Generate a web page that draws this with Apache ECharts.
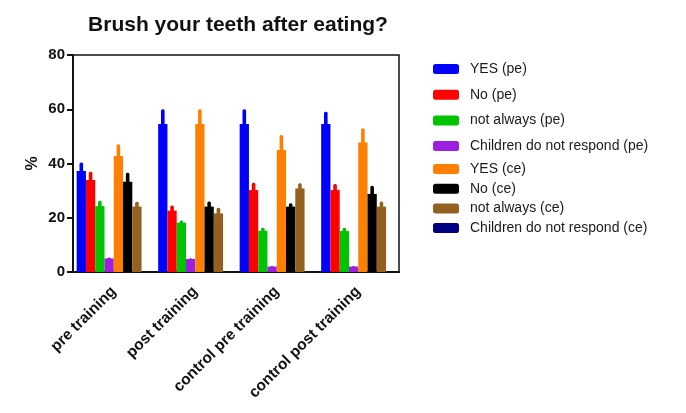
<!DOCTYPE html>
<html>
<head>
<meta charset="utf-8">
<script src="https://cdn.jsdelivr.net/npm/echarts@6/dist/echarts.min.js"></script>
<style>
  html, body { margin: 0; padding: 0; background: #fff; }
  #main { width: 686px; height: 413px; }
</style>
</head>
<body>
<div id="main"></div>
<script>
var categories = ['pre training', 'post training', 'control pre training', 'control post training'];
var seriesNames = ['YES (pe)', 'No (pe)', 'not always (pe)', 'Children do not respond (pe)',
  'YES (ce)', 'No (ce)', 'not always (ce)', 'Children do not respond (ce)'];
var colors = ['#0000ff', '#ff0000', '#00c400', '#9d1fe0', '#ff8000', '#000000', '#93601f', '#000080'];

// means (%)
var yesPe = [37.2, 54.6, 54.6, 54.6];
var noPe = [33.9, 22.6, 30.2, 30.2];
var notAlwaysPe = [24.3, 18.2, 15.2, 15.1];
var noRespPe = [5.0, 4.8, 2.0, 2.0];
var yesCe = [42.8, 54.6, 45.0, 47.7];
var noCe = [33.3, 24.1, 24.1, 28.8];
var notAlwaysCe = [24.1, 21.6, 30.8, 24.1];
var noRespCe = [0, 0, 0, 0];

// error (upper whisker length)
var yesPeErr = [3.2, 5.4, 5.4, 4.5];
var noPeErr = [3.1, 1.9, 2.7, 2.2];
var notAlwaysPeErr = [2.0, 0.8, 1.1, 1.2];
var noRespPeErr = [0.3, 0.3, 0.2, 0.2];
var yesCeErr = [4.3, 5.4, 5.5, 5.3];
var noCeErr = [3.3, 1.9, 1.2, 3.0];
var notAlwaysCeErr = [1.8, 2.1, 1.9, 1.9];
var noRespCeErr = [0, 0, 0, 0];

var means = [yesPe, noPe, notAlwaysPe, noRespPe, yesCe, noCe, notAlwaysCe, noRespCe];
var errs = [yesPeErr, noPeErr, notAlwaysPeErr, noRespPeErr, yesCeErr, noCeErr, notAlwaysCeErr, noRespCeErr];

var catGap = 0.09;

var series = seriesNames.map(function (name, i) {
  return {
    name: name,
    type: 'bar',
    data: means[i],
    barGap: '0%',
    barCategoryGap: (catGap * 100) + '%',
    itemStyle: { color: colors[i] }
  };
});

var errData = [];
for (var s = 0; s < means.length; s++) {
  for (var c = 0; c < categories.length; c++) {
    if (errs[s][c] > 0) {
      errData.push([c, s, means[s][c], means[s][c] + errs[s][c]]);
    }
  }
}

series.push({
  type: 'custom',
  name: 'err',
  data: errData,
  encode: { x: 0, y: [2, 3] },
  renderItem: function (params, api) {
    var c = api.value(0), s = api.value(1);
    var band = api.size([1, 0])[0];
    var groupW = band * (1 - catGap);
    var barW = groupW / seriesNames.length;
    var cx = api.coord([c, 0])[0] - groupW / 2 + s * barW + barW / 2;
    var yLo = api.coord([c, api.value(2)])[1];
    var yHi = api.coord([c, api.value(3)])[1];
    var w = 3.6;
    return {
      type: 'rect',
      shape: { x: cx - w / 2, y: yHi, width: w, height: yLo - yHi + 1, r: [1.5, 1.5, 0, 0] },
      style: { fill: colors[s] }
    };
  },
  z: 3
});

var legendBase = {
  orient: 'vertical',
  left: 428,
  icon: 'roundRect',
  itemWidth: 26,
  itemHeight: 10,
  textStyle: { fontFamily: 'Liberation Sans, Arial, sans-serif', fontSize: 14, lineHeight: 14, color: '#1a1a1a', padding: [4, 0, 0, 6] }
};

var chart = echarts.init(document.getElementById('main'));
chart.setOption({
  backgroundColor: '#fff',
  animation: false,
  title: {
    text: 'Brush your teeth after eating?',
    left: 233,
    textAlign: 'center',
    top: 10,
    textStyle: { fontFamily: 'Liberation Sans, Arial, sans-serif', fontSize: 21, fontWeight: 'bold', color: '#111' }
  },
  legend: [
    Object.assign({}, legendBase, { top: 55, itemGap: 7.7, data: seriesNames.slice(0, 4) }),
    Object.assign({}, legendBase, { top: 155, itemGap: 1.7, data: seriesNames.slice(4) })
  ],
  grid: {
    left: 73, right: 287, top: 55, bottom: 141,
    show: true, borderColor: '#111', borderWidth: 1.5, backgroundColor: 'transparent'
  },
  xAxis: {
    type: 'category',
    data: categories,
    axisLine: { lineStyle: { color: '#111', width: 2 } },
    axisTick: { alignWithLabel: true, length: 5, lineStyle: { color: '#111', width: 2 } },
    axisLabel: {
      rotate: 45, margin: 17, interval: 0,
      fontFamily: 'Liberation Sans, Arial, sans-serif', fontSize: 15.5, fontWeight: 'bold', color: '#111'
    }
  },
  yAxis: {
    type: 'value',
    min: 0, max: 80, interval: 20,
    name: '%',
    nameLocation: 'middle',
    nameGap: 32,
    nameRotate: 90,
    nameTextStyle: { fontFamily: 'Liberation Sans, Arial, sans-serif', fontSize: 16, fontWeight: 'bold', color: '#111' },
    axisLine: { show: true, lineStyle: { color: '#111', width: 2 } },
    axisTick: { show: true, length: 6, lineStyle: { color: '#111', width: 2 } },
    splitLine: { show: false },
    axisLabel: {
      margin: 8,
      fontFamily: 'Liberation Sans, Arial, sans-serif', fontSize: 15, fontWeight: 'bold', color: '#111'
    }
  },
  series: series
});
</script>
</body>
</html>
